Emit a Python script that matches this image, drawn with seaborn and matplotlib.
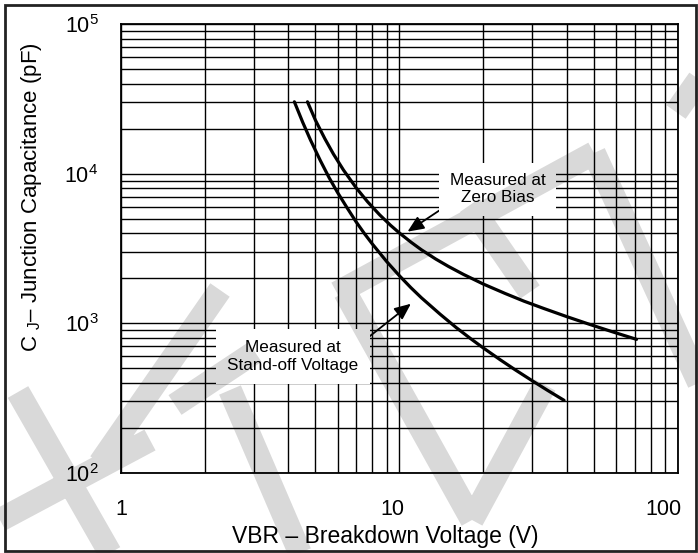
import matplotlib
matplotlib.use("Agg")
import numpy as np
import pandas as pd
import seaborn as sns
import matplotlib.pyplot as plt
import matplotlib.transforms as mtrans
from matplotlib.lines import Line2D
from matplotlib.ticker import LogLocator, NullFormatter

# ---- data ----
vbr_standoff = [4.2, 4.5, 4.8, 5.2, 5.6, 6.0, 6.5, 7.0, 7.5, 8, 9, 10, 11, 12, 14, 16,
                18, 20, 23, 26, 30, 34, 39]
cj_standoff = [30300, 22100, 16800, 12300, 9400, 7500, 5900, 4760, 3970, 3390, 2590,
               2080, 1730, 1480, 1150, 935, 790, 684, 570, 489, 412, 356, 305]
vbr_zero = [4.68, 5.0, 5.4, 5.8, 6.3, 7.0, 7.7, 8.5, 9.3, 10, 11, 12, 13.5, 15, 17, 20,
            24, 28, 33, 40, 48, 58, 71]
cj_zero = [30300, 22800, 17200, 13550, 10600, 8050, 6480, 5310, 4520, 4020, 3490, 3100,
           2690, 2400, 2120, 1830, 1580, 1405, 1255, 1105, 985, 878, 780]

x_ticks = [1, 10, 100]
x_tick_labels = ["1", "10", "100"]
y_ticks = [1e2, 1e3, 1e4, 1e5]
y_tick_labels = [r"$\mathregular{10^2}$", r"$\mathregular{10^3}$",
                 r"$\mathregular{10^4}$", r"$\mathregular{10^5}$"]

sns.set_theme(style="white")
plt.rcParams["font.family"] = ["Liberation Sans", "DejaVu Sans"]
plt.rcParams["mathtext.fontset"] = "custom"
plt.rcParams["mathtext.rm"] = "Liberation Sans"
plt.rcParams["mathtext.it"] = "Liberation Sans"

W, H = 698, 553
fig = plt.figure(figsize=(W / 100, H / 100), dpi=100)
L, R, T, B = 120.7, 678.0, 24.3, 472.7
ax = fig.add_axes([L / W, 1 - B / H, (R - L) / W, (B - T) / H])

df = pd.concat([
    pd.DataFrame({"vbr": vbr_standoff, "cj": cj_standoff, "series": "standoff"}),
    pd.DataFrame({"vbr": vbr_zero, "cj": cj_zero, "series": "zero"}),
])
sns.lineplot(data=df, x="vbr", y="cj", units="series", estimator=None,
             color="black", lw=2.3, sort=False, ax=ax, legend=False, zorder=2)

ax.set_xscale("log")
ax.set_yscale("log")
ax.set_xlim(1, 100)
ax.set_ylim(100, 1e5)
ax.xaxis.set_minor_locator(LogLocator(base=10, subs=np.arange(2, 10)))
ax.yaxis.set_minor_locator(LogLocator(base=10, subs=np.arange(2, 10)))
ax.xaxis.set_minor_formatter(NullFormatter())
ax.yaxis.set_minor_formatter(NullFormatter())
ax.set_axisbelow(True)
ax.grid(which="both", color="black", lw=1.0)
for s in ax.spines.values():
    s.set_color("black")
    s.set_linewidth(1.3)
    s.set_visible(True)

ax.set_xticks(x_ticks)
ax.set_xticklabels(x_tick_labels)
ax.set_yticks(y_ticks)
ax.set_yticklabels(y_tick_labels)
ax.tick_params(which="both", length=0)
ax.tick_params(axis="x", pad=19, labelsize=15.5, colors="black")
ax.tick_params(axis="y", pad=16, labelsize=15.5, colors="black")
for lab, dx in zip(ax.get_xticklabels(), [1, -7, -15]):
    lab.set_transform(lab.get_transform() + mtrans.ScaledTranslation(dx / 100, 0, fig.dpi_scale_trans))

ax.set_xlabel("VBR – Breakdown Voltage (V)", fontsize=16.5, color="black", va="center")
ax.xaxis.set_label_coords((385 - L) / (R - L), -(536 - B) / (B - T))
ax.set_ylabel(r"C $_\mathregular{J}$– Junction Capacitance (pF)", fontsize=16, color="black",
              va="center")
ax.yaxis.set_label_coords(-(L - 32) / (R - L), (B - 197) / (B - T))

arrow = dict(arrowstyle="-|>,head_length=0.8,head_width=0.35", color="black", lw=1.3,
             shrinkA=0, shrinkB=0)
ax.annotate("Measured at\nZero Bias", xy=(10.7, 4100), xytext=(22.5, 7900),
            ha="center", va="center", fontsize=12.3, color="black",
            bbox=dict(boxstyle="square,pad=0.6", fc="white", ec="none"),
            arrowprops=dict(arrow, relpos=(0.0, 0.05)), zorder=4)
ax.annotate("Measured at\nStand-off Voltage", xy=(11.0, 1350), xytext=(4.15, 600),
            ha="center", va="center", fontsize=12.3, color="black",
            bbox=dict(boxstyle="square,pad=0.65", fc="white", ec="none"),
            arrowprops=dict(arrow, relpos=(1.0, 0.85)), zorder=4)

# ---- watermark (translucent grey strokes over the whole figure) ----
strokes = [
    [(18, 392), (110, 553)],
    [(0, 520), (150, 440)],
    [(100, 463), (220, 290)],
    [(175, 405), (255, 352)],
    [(230, 390), (300, 553)],
    [(337, 293), (594, 153)],
    [(594, 153), (700, 385)],
    [(470, 205), (530, 292)],
    [(345, 292), (472, 520)],
    [(472, 520), (545, 385)],
    [(676, 112), (700, 78)],
]
xs, ys = [], []
for st in strokes:
    for (px, py) in st:
        xs.append(px / W)
        ys.append(1 - py / H)
    xs.append(np.nan)
    ys.append(np.nan)
fig.add_artist(Line2D(xs, ys, transform=fig.transFigure, color="black",
                      alpha=0.15, lw=17, solid_capstyle="butt", zorder=10))

# outer frame
fig.add_artist(plt.Rectangle((5 / W, 2 / H), 691 / W, 546 / H, transform=fig.transFigure,
                             fill=False, ec="#222222", lw=2.0, zorder=11))

fig.savefig("out.png", dpi=100)
